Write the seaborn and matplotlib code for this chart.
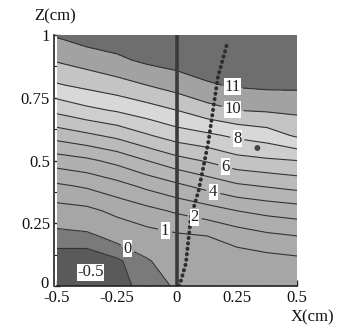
import numpy as np
import pandas as pd
import matplotlib
matplotlib.use("Agg")
import matplotlib.pyplot as plt
import matplotlib.transforms as mtransforms
import seaborn as sns

# ---- data ----
x_cm = [-0.5, -0.375, -0.25, -0.125, 0.0, 0.125, 0.25, 0.375, 0.5]
z_cm = [0.0, 0.1, 0.2, 0.3, 0.4, 0.5, 0.6, 0.7, 0.8, 0.9, 1.0]
# one list per x column (values from z=0 to z=1)
col_m0500 = [-0.6, -0.75, -0.25, 0.6, 1.85, 3.5, 5.4, 7.25, 8.9, 10.1, 11.1]
col_m0375 = [-0.7, -0.85, -0.15, 0.75, 2.15, 3.8, 5.8, 7.75, 9.25, 10.45, 11.5]
col_m0250 = [-0.65, -0.6, 0.25, 1.25, 2.65, 4.3, 6.25, 8.1, 9.6, 10.8, 11.6]
col_m0125 = [-0.35, -0.08, 0.6, 1.7, 3.25, 5.0, 6.9, 8.55, 10.0, 11.2, 11.7]
col_p0000 = [0.1, 0.45, 0.85, 2.15, 3.8, 5.65, 7.5, 9.0, 10.45, 11.4, 11.8]
col_p0125 = [0.15, 0.45, 1.0, 2.55, 4.35, 6.1, 7.8, 9.6, 10.9, 11.5, 11.8]
col_p0250 = [0.1, 0.45, 1.45, 3.0, 4.85, 6.65, 8.2, 10.0, 11.1, 11.5, 11.8]
col_p0375 = [0.1, 0.6, 1.8, 3.3, 5.1, 6.85, 8.5, 10.1, 11.2, 11.5, 11.8]
col_p0500 = [0.05, 0.75, 2.0, 3.5, 5.35, 7.0, 9.15, 10.2, 11.2, 11.5, 11.8]

fill_levels = [-1.0, -0.5, 0, 1, 2, 3, 4, 5, 6, 7, 8, 9, 10, 11, 12]
line_levels = [-0.5, 0, 1, 2, 3, 4, 5, 6, 7, 8, 9, 10, 11]
labelled = [11, 10, 8, 6, 4, 2, 1, 0]

# dotted curve
dot_x = [0.01, 0.037, 0.058, 0.09, 0.13, 0.17, 0.21]
dot_z = [0.0, 0.09, 0.275, 0.38, 0.57, 0.83, 0.97]
# small dark spot
spot_x = [0.335]
spot_z = [0.55]

xticks = [-0.5, -0.25, 0, 0.25, 0.5]
xtick_labels = ["-0.5", "-0.25", "0", "0.25", "0.5"]
zticks = [0, 0.25, 0.5, 0.75, 1]
ztick_labels = ["0", "0.25", "0.5", "0.75", "1"]

# ---- style ----
sns.set_theme(style="ticks")
plt.rcParams['font.family'] = ['Liberation Serif', 'Noto Sans CJK SC']

band_colors = ['#5a5a5a', '#7a7a7a', '#a6a6a6', '#aaaaaa', '#adadad', '#b0b0b0',
               '#b5b5b5', '#bababa', '#c3c3c3', '#cecece', '#d8d8d8', '#c4c4c4',
               '#a2a2a2', '#6e6e6e']

V = np.array([col_m0500, col_m0375, col_m0250, col_m0125, col_p0000,
              col_p0125, col_p0250, col_p0375, col_p0500]).T
X, Zg = np.meshgrid(x_cm, z_cm)

fig = plt.figure(figsize=(3.41, 3.27), dpi=100)
ax = fig.add_axes([0.167, 0.125, 0.704, 0.768])

ax.contourf(X, Zg, V, levels=fill_levels, colors=band_colors)

label_pos = {11: (0.23, 0.79), 10: (0.23, 0.70), 8: (0.25, 0.58), 6: (0.2, 0.47),
             4: (0.15, 0.37), 2: (0.07, 0.26), 1: (-0.05, 0.22), 0: (-0.2, 0.16)}
for lvl in line_levels:
    cs = ax.contour(X, Zg, V, levels=[lvl], colors='#333333', linewidths=0.8,
                    linestyles='solid')
    if lvl in labelled:
        lbls = ax.clabel(cs, fmt=lambda v: f"{v:g}", fontsize=12,
                         inline=True, inline_spacing=3,
                         manual=[label_pos[lvl]])
        for t in lbls:
            t.set_rotation(0)
            t.set_color('#222222')
            t.set_bbox(dict(facecolor='white', edgecolor='none', pad=0.3))

ax.text(-0.36, 0.055, "-0.5", ha='center', va='center', fontsize=12,
        color='#222222', bbox=dict(facecolor='white', edgecolor='none', pad=0.3))

# vertical solid line at x=0
sns.lineplot(x=[0, 0], y=[0, 1], ax=ax, color='#3a3a3a', linewidth=2.6,
             estimator=None, sort=False)
# dotted curve
sns.lineplot(x=dot_x, y=dot_z, ax=ax, color='#2e2e2e', linewidth=2.8,
             linestyle=(0, (0.1, 1.3)), dash_capstyle='round',
             estimator=None, sort=False)
sns.scatterplot(x=spot_x, y=spot_z, ax=ax, color='#444444', s=18,
                marker='o', edgecolor='none')

ax.set_xlim(-0.5, 0.5)
ax.set_ylim(0, 1)
ax.set_xticks(xticks)
ax.set_xticklabels(xtick_labels)
ax.set_yticks(zticks)
ax.set_yticklabels(ztick_labels)
ax.set_xticks(np.arange(-0.5, 0.51, 0.125), minor=True)
ax.set_yticks(np.arange(0, 1.01, 0.125), minor=True)
ax.tick_params(axis='both', which='major', direction='in', length=4, width=1,
               labelsize=12, color='#222222', labelcolor='#111111')
ax.tick_params(axis='x', which='major', pad=3)
ax.tick_params(axis='y', which='major', pad=3)
ax.tick_params(axis='both', which='minor', direction='in', length=2, width=0.8,
               color='#222222')
for side in ['top', 'right']:
    ax.spines[side].set_visible(False)
for side in ['left', 'bottom']:
    ax.spines[side].set_linewidth(1.2)
    ax.spines[side].set_color('#222222')
ax.spines['left'].set_position(('outward', 2))
ax.set_xlabel("")
ax.set_ylabel("")

# lift the "0" z-label a little, as in the reference
ylab0 = ax.get_yticklabels()[0]
ylab0.set_transform(ylab0.get_transform() +
                    mtransforms.ScaledTranslation(-1 / 100, 4 / 100, fig.dpi_scale_trans))

fig.text(0.162, 0.950, "Z(cm)", ha='center', va='center', fontsize=12, color='#111111')
fig.text(0.915, 0.030, "X(cm)", ha='center', va='center', fontsize=12, color='#111111')

fig.savefig("out.png", dpi=100)
